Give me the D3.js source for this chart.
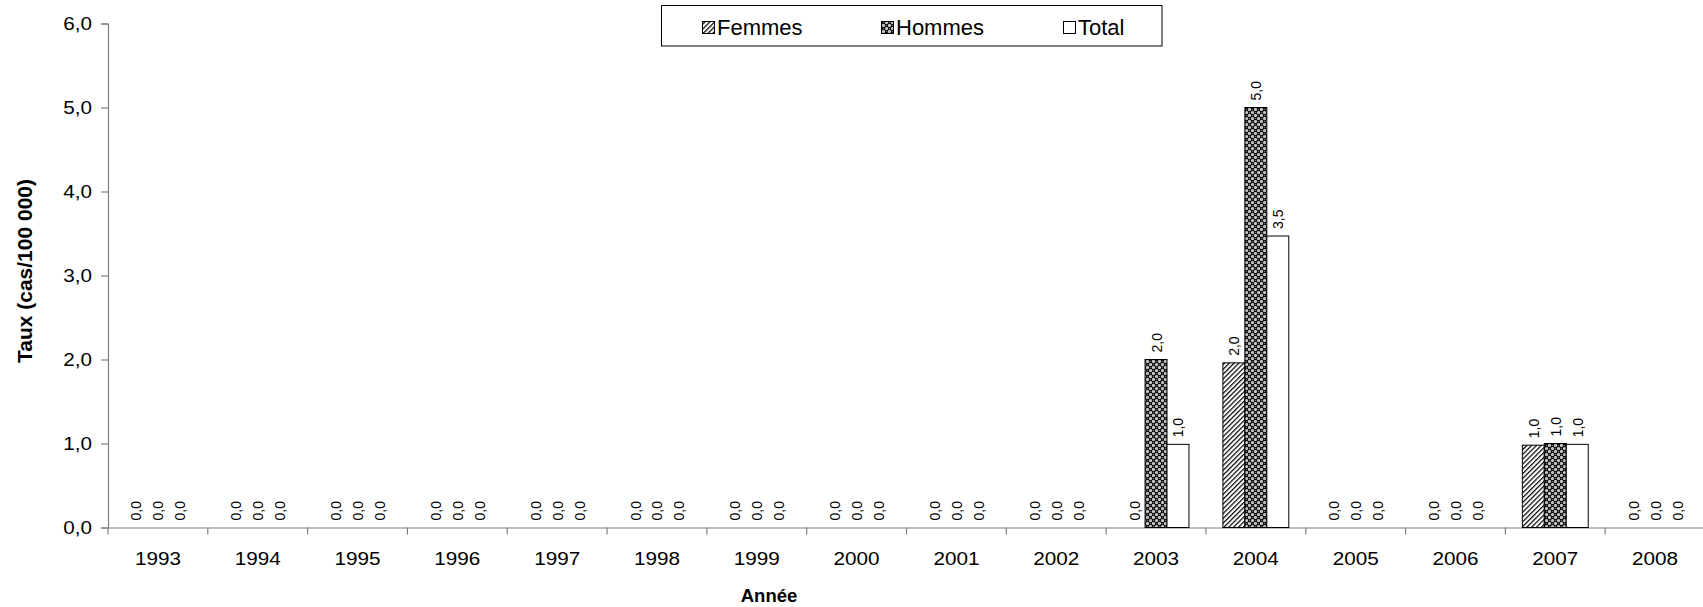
<!DOCTYPE html>
<html><head><meta charset="utf-8">
<script src="https://cdn.jsdelivr.net/npm/d3@7"></script>
<style>
html,body{margin:0;padding:0;background:#fff;}
svg{display:block;font-family:"Liberation Sans",Arial,sans-serif;}
</style></head>
<body>
<svg id="chart" width="1703" height="607"></svg>
<script>
const years = ["1993","1994","1995","1996","1997","1998","1999","2000","2001","2002","2003","2004","2005","2006","2007","2008"];
const femmes = [0,0,0,0,0,0,0,0,0,0,0,1.96,0,0,0.98,0];
const hommes = [0,0,0,0,0,0,0,0,0,0,2.0,5.0,0,0,1.0,0];
const total  = [0,0,0,0,0,0,0,0,0,0,0.99,3.47,0,0,0.99,0];
const seriesNames = ["Femmes","Hommes","Total"];
const yTicks = [0,1,2,3,4,5,6];

const svg = d3.select("#chart");
const defs = svg.append("defs");

// Femmes hatch pattern
const ph = defs.append("pattern").attr("id","hatch").attr("patternUnits","userSpaceOnUse")
  .attr("width",3.4).attr("height",3.4).attr("patternTransform","rotate(45)");
ph.append("rect").attr("width",3.4).attr("height",3.4).attr("fill","#fff");
ph.append("line").attr("x1",0.6).attr("y1",0).attr("x2",0.6).attr("y2",3.4)
  .attr("stroke","#000").attr("stroke-width",1.2);

// Hommes dark cross pattern
const pd = defs.append("pattern").attr("id","dark").attr("patternUnits","userSpaceOnUse")
  .attr("width",6).attr("height",6);
pd.append("rect").attr("width",6).attr("height",6).attr("fill","#111");
pd.append("circle").attr("cx",1.5).attr("cy",1.5).attr("r",1.6).attr("fill","#c4c4c4");
pd.append("circle").attr("cx",4.5).attr("cy",4.5).attr("r",1.6).attr("fill","#c4c4c4");
pd.append("rect").attr("x",4).attr("y",1).attr("width",1).attr("height",1).attr("fill","#777");
pd.append("rect").attr("x",1).attr("y",4).attr("width",1).attr("height",1).attr("fill","#777");

const fills = {Femmes:"url(#hatch)", Hommes:"url(#dark)", Total:"#fff"};

const x0 = 108, x1r = 1705, yTop = 23.5, yBot = 527.5;
const x = d3.scaleBand().domain(years).range([x0, x1r]).paddingInner(0).paddingOuter(0);
const y = d3.scaleLinear().domain([0,6]).range([yBot, yTop]);
const xs = d3.scaleBand().domain(seriesNames)
  .range([x.bandwidth()*0.17, x.bandwidth()*0.83]).padding(0);

const fmt = v => d3.format(".1f")(v).replace(".", ",");
const SX = 1.15;

// Y axis
const yAxis = svg.append("g").attr("transform",`translate(${x0},0)`)
  .call(d3.axisLeft(y).tickValues(yTicks).tickSize(7).tickPadding(9).tickFormat(fmt));
yAxis.select(".domain").attr("stroke","#808080").attr("stroke-width",1.2);
yAxis.selectAll(".tick line").attr("stroke","#808080").attr("stroke-width",1.2);
yAxis.selectAll(".tick text").attr("font-size",18).attr("fill","#000")
  .attr("font-family","Liberation Sans, Arial, sans-serif")
  .attr("transform", function(){ const xx = +d3.select(this).attr("x"); return `translate(${-xx*(SX-1)},0) scale(${SX},1)`; });

// X axis
const xAxis = svg.append("g").attr("transform",`translate(0,${yBot})`)
  .call(d3.axisBottom(x).tickSize(0).tickPadding(0));
xAxis.select(".domain").attr("stroke","#808080").attr("stroke-width",1.2);
xAxis.selectAll(".tick line").remove();
xAxis.selectAll(".tick text").attr("font-size",18).attr("fill","#000")
  .attr("font-family","Liberation Sans, Arial, sans-serif")
  .attr("dy",null).attr("y",38).attr("transform",`scale(${SX},1)`);
// boundary ticks
const bounds = years.map(yr => x(yr)).concat([x1r]);
svg.append("g").selectAll("line").data(bounds).join("line")
  .attr("x1",d=>d).attr("x2",d=>d).attr("y1",yBot).attr("y2",yBot+7)
  .attr("stroke","#808080").attr("stroke-width",1.2);

// Bars
const data = [];
years.forEach((yr,i) => {
  data.push({year:yr, s:"Femmes", v:femmes[i]});
  data.push({year:yr, s:"Hommes", v:hommes[i]});
  data.push({year:yr, s:"Total", v:total[i]});
});
const bars = svg.append("g");
bars.selectAll("rect").data(data.filter(d=>d.v>0)).join("rect")
  .attr("x", d => x(d.year)+xs(d.s))
  .attr("y", d => y(d.v))
  .attr("width", xs.bandwidth())
  .attr("height", d => y(0)-y(d.v))
  .attr("fill", d => fills[d.s])
  .attr("stroke","#000").attr("stroke-width",1);

// Value labels
svg.append("g").selectAll("text").data(data).join("text")
  .attr("transform", d => `translate(${x(d.year)+xs(d.s)+xs.bandwidth()/2+0.5},${y(d.v)-7}) rotate(-90)`)
  .attr("text-anchor","start").attr("dominant-baseline","central")
  .attr("font-family","Liberation Sans Narrow, Arial Narrow, Liberation Sans, sans-serif")
  .attr("font-size",14).attr("fill","#000")
  .text(d => fmt(d.v));

// Axis titles
svg.append("text").attr("x",769).attr("y",602).attr("text-anchor","middle")
  .attr("font-weight","bold").attr("font-size",18.5).text("Année");
svg.append("text").attr("transform","translate(32,271) rotate(-90)").attr("text-anchor","middle")
  .attr("font-weight","bold").attr("font-size",21).text("Taux (cas/100 000)");

// Legend
const lg = svg.append("g");
lg.append("rect").attr("x",661.5).attr("y",5.5).attr("width",500.5).attr("height",40.5)
  .attr("fill","#fff").attr("stroke","#000").attr("stroke-width",1);
const legX = {Femmes:702, Hommes:881, Total:1063};
seriesNames.forEach(s => {
  lg.append("rect").attr("x",legX[s]+0.5).attr("y",21.5).attr("width",12).attr("height",12)
    .attr("fill",fills[s]).attr("stroke","#000").attr("stroke-width",1);
  lg.append("text").attr("x",legX[s]+15).attr("y",34.5).attr("font-size",22).attr("fill","#000").text(s);
});
</script>
</body></html>
